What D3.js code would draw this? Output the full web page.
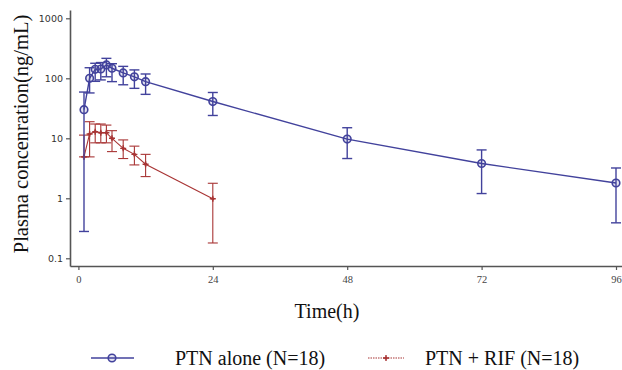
<!DOCTYPE html>
<html>
<head>
<meta charset="utf-8">
<title>PTN plasma concentration</title>
<script src="https://d3js.org/d3.v7.min.js"></script>
<style>
  body { margin: 0; background: #fff; }
</style>
</head>
<body>
<svg id="chart" width="622" height="370"></svg>
<script>
// sampling times (h)
var ptnTimes = [1, 2, 3, 4, 5, 6, 8, 10, 12, 24, 48, 72, 96];
var ptnMean  = [30, 100, 141, 143, 167, 147, 123, 106, 88, 41, 9.7, 3.8, 1.8];
var ptnUpper = [59, 150, 178, 183, 215, 175, 158, 138, 118, 58, 15, 6.4, 3.2];
var ptnLower = [0.28, 57, 89, 94, 106, 88, 78, 68, 54, 24, 4.6, 1.2, 0.39];

var rifTimes = [1, 2, 3, 4, 5, 6, 8, 10, 12, 24];
var rifMean  = [4.9, 11.8, 12.9, 12.4, 12.4, 10, 6.8, 5.4, 3.7, 0.98];
var rifUpper = [11.3, 18.9, 17.3, 17.3, 16.6, 13.4, 9.4, 7.4, 5.4, 1.78];
var rifLower = [4.9, 4.9, 8.4, 8.4, 8.4, 6.0, 4.6, 3.6, 2.3, 0.18];

var xTicks = [0, 24, 48, 72, 96];
var yTicks = [0.1, 1, 10, 100, 1000];
var yTickLabels = ["0.1", "1", "10", "100", "1000"];

var seriesNames = ["PTN alone (N=18)", "PTN + RIF (N=18)"];

var blue = "#42429c";
var red = "#a83434";

var svg = d3.select("#chart");

var x = d3.scaleLinear().domain([-1.5, 97]).range([70, 621.6]);
var y = d3.scaleLog().domain([0.0744, 1375]).range([266, 10]);

// axes
var xAxis = svg.append("g")
    .attr("transform", "translate(0,266)")
    .call(d3.axisBottom(x).tickValues(xTicks).tickSizeInner(4).tickSizeOuter(0).tickPadding(6));
xAxis.select(".domain").attr("stroke", "#555").attr("stroke-width", 1.6);
xAxis.selectAll(".tick line").attr("stroke", "#555").attr("stroke-width", 1.2);
xAxis.selectAll("text")
    .attr("font-family", "Liberation Serif, serif")
    .attr("font-size", 10.5)
    .attr("fill", "#444");

var yAxis = svg.append("g")
    .attr("transform", "translate(70,0)")
    .call(d3.axisLeft(y).tickValues(yTicks)
        .tickFormat(function (d, i) { return yTickLabels[i]; })
        .tickSizeInner(4).tickSizeOuter(0).tickPadding(3));
yAxis.select(".domain").attr("stroke", "#555").attr("stroke-width", 1.6);
yAxis.selectAll(".tick line").attr("stroke", "#555").attr("stroke-width", 1.2);
yAxis.selectAll("text")
    .attr("font-family", "DejaVu Sans, sans-serif")
    .attr("font-size", 9.5)
    .attr("fill", "#333");

// axis titles
svg.append("text")
    .attr("transform", "translate(28,134) rotate(-90)")
    .attr("text-anchor", "middle")
    .attr("font-family", "Liberation Serif, serif")
    .attr("font-size", 20.5)
    .attr("fill", "#111")
    .text("Plasma concenration(ng/mL)");

svg.append("text")
    .attr("x", 327)
    .attr("y", 318)
    .attr("text-anchor", "middle")
    .attr("font-family", "Liberation Serif, serif")
    .attr("font-size", 20)
    .attr("fill", "#111")
    .text("Time(h)");

function drawSeries(times, mean, lower, upper, color, width, marker) {
    var pts = times.map(function (t, i) {
        return {t: t, m: mean[i], lo: lower[i], hi: upper[i]};
    });
    var g = svg.append("g");
    var line = d3.line()
        .x(function (d) { return x(d.t); })
        .y(function (d) { return y(d.m); });

    g.append("path")
        .datum(pts)
        .attr("d", line)
        .attr("fill", "none")
        .attr("stroke", color)
        .attr("stroke-width", width);

    // error bars
    var eb = g.selectAll(".eb").data(pts).enter().append("g").attr("class", "eb");
    eb.append("line")
        .attr("x1", function (d) { return x(d.t); })
        .attr("x2", function (d) { return x(d.t); })
        .attr("y1", function (d) { return y(d.lo); })
        .attr("y2", function (d) { return y(d.hi); })
        .attr("stroke", color).attr("stroke-width", width);
    eb.append("line")
        .attr("x1", function (d) { return x(d.t) - 5; })
        .attr("x2", function (d) { return x(d.t) + 5; })
        .attr("y1", function (d) { return y(d.hi); })
        .attr("y2", function (d) { return y(d.hi); })
        .attr("stroke", color).attr("stroke-width", width);
    eb.append("line")
        .attr("x1", function (d) { return x(d.t) - 5; })
        .attr("x2", function (d) { return x(d.t) + 5; })
        .attr("y1", function (d) { return y(d.lo); })
        .attr("y2", function (d) { return y(d.lo); })
        .attr("stroke", color).attr("stroke-width", width);

    pts.forEach(function (d) {
        marker(g, x(d.t), y(d.m));
    });
}

function circleMarker(g, cx, cy) {
    g.append("circle")
        .attr("cx", cx).attr("cy", cy).attr("r", 3.8)
        .attr("fill", "rgba(66,66,156,0.15)")
        .attr("stroke", blue).attr("stroke-width", 1.6);
}

function plusMarker(g, cx, cy) {
    g.append("path")
        .attr("d", "M" + (cx - 3) + "," + cy + "H" + (cx + 3) + "M" + cx + "," + (cy - 3) + "V" + (cy + 3))
        .attr("stroke", red).attr("stroke-width", 1.4);
    g.append("circle")
        .attr("cx", cx).attr("cy", cy).attr("r", 1.6)
        .attr("fill", red);
}

drawSeries(rifTimes, rifMean, rifLower, rifUpper, red, 1.1, plusMarker);
drawSeries(ptnTimes, ptnMean, ptnLower, ptnUpper, blue, 1.4, circleMarker);

// legend
var legend = svg.append("g");
legend.append("line")
    .attr("x1", 91).attr("x2", 134).attr("y1", 358).attr("y2", 358)
    .attr("stroke", blue).attr("stroke-width", 1.6);
circleMarker(legend, 112, 358);
legend.append("text")
    .attr("x", 175).attr("y", 365)
    .attr("font-family", "Liberation Serif, serif")
    .attr("font-size", 20)
    .attr("fill", "#111")
    .text(seriesNames[0]);

legend.append("line")
    .attr("x1", 368).attr("x2", 404).attr("y1", 358).attr("y2", 358)
    .attr("stroke", red).attr("stroke-width", 1.2)
    .attr("stroke-dasharray", "1.5,1");
plusMarker(legend, 386, 358);
legend.append("text")
    .attr("x", 425).attr("y", 365)
    .attr("font-family", "Liberation Serif, serif")
    .attr("font-size", 20)
    .attr("fill", "#111")
    .text(seriesNames[1]);
</script>
</body>
</html>
